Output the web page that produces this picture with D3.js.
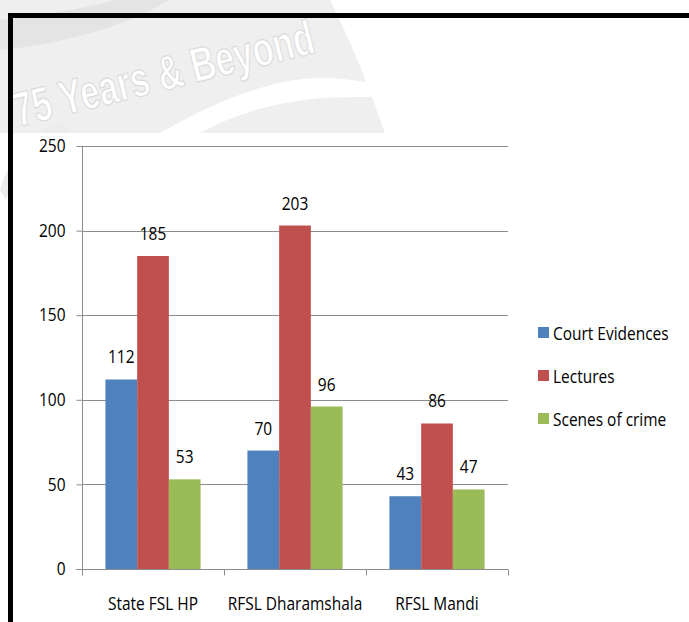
<!DOCTYPE html>
<html><head><meta charset="utf-8">
<script src="https://cdn.jsdelivr.net/npm/d3@7"></script>
<style>
body{margin:0;background:#fff;}
svg text.t{font-family:"Open Sans",sans-serif;}
</style></head>
<body><svg id="c" width="689" height="622"></svg>
<script>
const categories = ["State FSL HP", "RFSL Dharamshala", "RFSL Mandi"];
const seriesNames = ["Court Evidences", "Lectures", "Scenes of crime"];
const courtEvidences = [112, 70, 43];
const lectures = [185, 203, 86];
const scenesOfCrime = [53, 96, 47];
const yTicks = [0, 50, 100, 150, 200, 250];
const colors = ["#4F81BD", "#C0504D", "#9BBB59"];

const seriesValues = [courtEvidences, lectures, scenesOfCrime];
const svg = d3.select("#c");
const SX = 0.86, FS = 18;

// narrow text helper
function ntext(sel, x, y, anchor, str){
  return sel.append("text").attr("class","t")
    .attr("transform",`translate(${x},${y}) scale(${SX},1)`)
    .attr("text-anchor",anchor).attr("font-size",FS).attr("fill","#000").text(str);
}

// watermark background
const wm = svg.append("g");
wm.append("path").attr("d","M0,0 L330,0 Q360,60 385,133 L0,133 Z").attr("fill","#efefef");
wm.append("path").attr("d","M0,20 Q90,10 150,-10 L170,0 Q100,40 0,50 Z").attr("fill","#e4e4e4");
wm.append("path").attr("d","M0,190 Q10,150 60,120 L70,133 Q20,160 6,200 Z").attr("fill","#ececec");
wm.append("path").attr("d","M160,133 Q260,75 330,78 Q390,82 440,100 Q380,95 320,98 Q250,105 200,133 Z").attr("fill","#ffffff");
wm.append("text").attr("transform","translate(18,127) rotate(-14) scale(0.78,1.1)")
  .attr("font-family","'Liberation Sans',Arial,sans-serif")
  .attr("font-size",44).attr("font-weight","bold").attr("fill","#ffffff")
  .attr("stroke","#dcdcdc").attr("stroke-width",1.2)
  .text("75 Years & Beyond");
// white plot area
svg.append("rect").attr("x",13).attr("y",133).attr("width",676).attr("height",489).attr("fill","#fff");

// frame
svg.append("line").attr("x1",8).attr("x2",689).attr("y1",15.5).attr("y2",15.5).attr("stroke","#000").attr("stroke-width",5);
svg.append("line").attr("x1",10.5).attr("x2",10.5).attr("y1",13).attr("y2",622).attr("stroke","#000").attr("stroke-width",5);

const x0 = d3.scaleBand().domain(categories).range([82, 508]).paddingInner(0.33).paddingOuter(0.165);
const x1 = d3.scaleBand().domain(seriesNames).range([0, x0.bandwidth()]);
const y = d3.scaleLinear().domain([0, 250]).range([569, 146]);

// gridlines
svg.append("g").selectAll("line").data(yTicks.filter(d=>d>0)).join("line")
  .attr("x1",82).attr("x2",508).attr("y1",d=>Math.round(y(d))+0.5).attr("y2",d=>Math.round(y(d))+0.5)
  .attr("stroke","#8c8c8c").attr("stroke-width",1);

// y axis
const ya = svg.append("g").attr("transform","translate(82.5,0)")
  .call(d3.axisLeft(y).tickValues(yTicks).tickSize(6).tickPadding(11));
ya.select(".domain").attr("stroke","#8c8c8c").attr("d","M0,146V569.5");
ya.selectAll(".tick line").attr("stroke","#8c8c8c");
ya.selectAll(".tick text").attr("class","t").attr("font-size",FS).attr("fill","#000").attr("font-family",null)
  .attr("x",-17/SX).attr("transform",`scale(${SX},1)`);

// x axis
const xa = svg.append("g").attr("transform","translate(0,569.5)");
xa.append("line").attr("x1",76).attr("x2",508).attr("stroke","#8c8c8c");
const bounds = [82, 82+142, 82+284, 508];
xa.selectAll("line.tk").data(bounds).join("line").attr("class","tk")
  .attr("x1",d=>Math.round(d)+0.5).attr("x2",d=>Math.round(d)+0.5).attr("y1",0).attr("y2",6).attr("stroke","#8c8c8c");
categories.forEach(c=>ntext(xa, x0(c)+x0.bandwidth()/2, 40, "middle", c));

// bars
const groups = svg.append("g").selectAll("g").data(categories).join("g")
  .attr("transform",d=>`translate(${x0(d)},0)`);
groups.selectAll("rect").data((c,i)=>seriesNames.map((s,j)=>({s,v:seriesValues[j][i],j})))
  .join("rect")
  .attr("x",d=>x1(d.s)).attr("width",x1.bandwidth())
  .attr("y",d=>y(d.v)).attr("height",d=>y(0)-y(d.v))
  .attr("fill",d=>colors[d.j]);
groups.each(function(c,i){
  const g = d3.select(this);
  seriesNames.forEach((s,j)=>{
    const v = seriesValues[j][i];
    ntext(g, x1(s)+x1.bandwidth()/2, y(v)-16, "middle", v);
  });
});

// legend
const lg = svg.append("g").attr("transform","translate(538,0)");
seriesNames.forEach((s,i)=>{
  const cy = 333 + i*43;
  lg.append("rect").attr("x",0).attr("y",cy-6).attr("width",11).attr("height",11).attr("fill",colors[i]);
  ntext(lg, 15, cy+7, "start", s);
});
</script></body></html>
